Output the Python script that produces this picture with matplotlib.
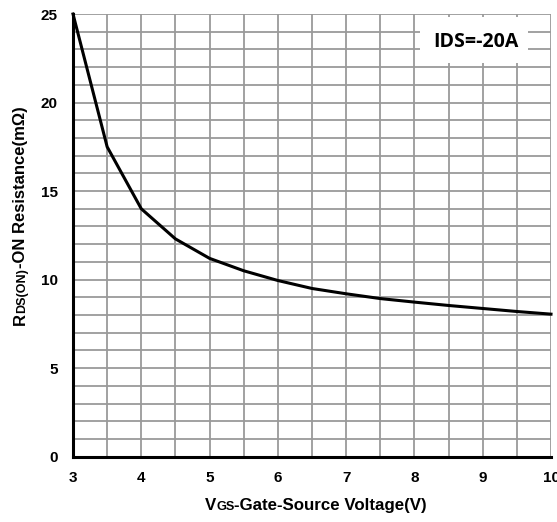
import matplotlib
matplotlib.use("Agg")
import matplotlib.pyplot as plt
import matplotlib.transforms as mtransforms
from matplotlib.font_manager import FontProperties
from matplotlib.patches import Rectangle
import numpy as np

# Data
vgs = [3.0, 3.5, 4.0, 4.5, 5.0, 5.5, 6.0, 6.5, 7.0, 7.5, 8.0, 8.5, 9.0, 9.5, 10.0]
rdson = [25.0, 17.5, 14.0, 12.3, 11.2, 10.5, 9.95, 9.5, 9.2, 8.93, 8.73, 8.54, 8.37, 8.2, 8.05]
xticks = [3, 4, 5, 6, 7, 8, 9, 10]
yticks = [0, 5, 10, 15, 20, 25]
xlabel_parts = [("V", 12.2), ("GS", 9.2), ("-Gate-Source Voltage(V)", 12.2)]
ylabel_parts = [("R", 12), ("DS(ON)", 9), ("-ON Resistance(m\u03a9)", 12)]
annotation = "IDS=-20A"

FAM = ["Liberation Sans Narrow", "Liberation Sans", "DejaVu Sans"]

W, H, DPI = 557, 522, 100
fig = plt.figure(figsize=(W / DPI, H / DPI), dpi=DPI)
ax = fig.add_axes([73 / W, 1 - 456.7 / H, (551 - 73) / W, (456.7 - 14) / H])

ax.set_xlim(3, 10)
ax.set_ylim(0, 25)
ax.set_xticks(np.arange(3, 10.01, 0.5), minor=True)
ax.set_yticks(np.arange(0, 25.01, 1), minor=True)
ax.set_xticks(xticks)
ax.set_yticks(yticks)
ax.grid(True, which="both", color="#9a9a9a", linewidth=1.3)
ax.set_axisbelow(True)
ax.tick_params(which="both", length=0)
ax.tick_params(axis="x", pad=10)
ax.tick_params(axis="y", pad=11)
for lab in ax.get_xticklabels() + ax.get_yticklabels():
    lab.set_fontfamily(FAM)
    lab.set_fontweight("bold")
    lab.set_fontsize(11)

for s in ["top", "right"]:
    ax.spines[s].set_visible(False)
for s in ["left", "bottom"]:
    ax.spines[s].set_linewidth(2.2)
    ax.spines[s].set_color("black")
    ax.spines[s].set_zorder(5)

ax.plot(vgs, rdson, color="black", linewidth=2.2, zorder=4, clip_on=False)

# annotation box
ax.add_patch(Rectangle((420 / W, 1 - 63 / H), (528 - 420) / W, (63 - 17) / H,
                       transform=fig.transFigure, facecolor="white", edgecolor="none", zorder=3))
fig.text(476 / W, 1 - 42 / H, annotation, ha="center", va="center",
         fontfamily=["Open Sans", "DejaVu Sans"], fontweight="bold", fontsize=14, zorder=6)

renderer = fig.canvas.get_renderer()

def widths(parts):
    out = []
    for s, fs in parts:
        fp = FontProperties(family=FAM, weight="bold", size=fs)
        w, h, d = renderer.get_text_width_height_descent(s, fp, ismath=False)
        out.append(w * 72 / DPI)
    return out

def mixed(parts, cx, cy, rotation=0):
    ws = widths(parts)
    total = sum(ws)
    off = -total / 2
    for (s, fs), w in zip(parts, ws):
        if rotation == 0:
            tr = mtransforms.offset_copy(fig.transFigure, fig=fig, x=off, y=0, units="points")
        else:
            tr = mtransforms.offset_copy(fig.transFigure, fig=fig, x=0, y=off, units="points")
        fig.text(cx, cy, s, transform=tr, rotation=rotation, ha="left", va="baseline",
                 rotation_mode="anchor", fontfamily=FAM, fontweight="bold", fontsize=fs)
        off += w

mixed(xlabel_parts, 316 / W, 1 - 510 / H)
mixed(ylabel_parts, 25 / W, 1 - 216 / H, rotation=90)

fig.savefig("out.png", dpi=DPI)
